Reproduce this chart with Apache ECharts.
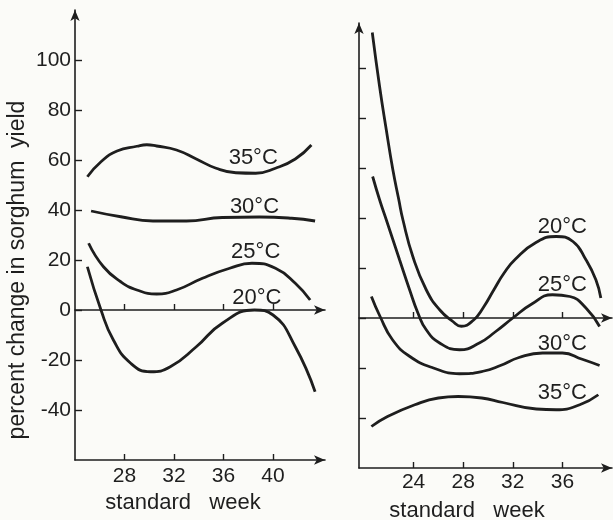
<!DOCTYPE html>
<html>
<head>
<meta charset="utf-8">
<script src="https://cdn.jsdelivr.net/npm/echarts@6/dist/echarts.min.js"></script>
<style>
  html, body { margin: 0; padding: 0; background: #fbfbf8; }
  #main { width: 613px; height: 520px; }
</style>
</head>
<body>
<div id="main"></div>
<script>
// left panel: weeks and percent change
var leftWeeks35 = [25, 26.1, 27.4, 29, 29.8, 30.6, 32.2, 33.8, 35.4, 37, 38.6, 40.2, 41.8, 43.1];
var leftVals35 = [53.3, 59.3, 63.6, 65.5, 66.1, 65.6, 64, 60.4, 56.7, 54.9, 54.7, 56.7, 60.4, 66];
var leftWeeks30 = [25.3, 27.7, 30.3, 33, 35.9, 38.9, 41.5, 43.4];
var leftVals30 = [39.6, 37.3, 35.6, 35.6, 37, 37.2, 36.7, 35.6];
var leftWeeks25 = [25.1, 26.3, 27.7, 29, 30.6, 32.2, 34.3, 36.5, 38.3, 40.2, 41.8, 43];
var leftVals25 = [26.7, 17.3, 11.3, 8, 6.4, 8, 12.7, 16.7, 18.7, 16.7, 10.7, 4];
var leftWeeks20 = [25, 26.1, 27.1, 28.5, 30.1, 31.7, 33.8, 35.9, 38.5, 40, 41.8, 43.4];
var leftVals20 = [17.3, 0, -12, -21.3, -24.7, -22.7, -14.7, -5.3, 0, -2, -14.7, -32.7];

// right panel
var rightWeeks20 = [20.67, 21.26, 21.8, 22.33, 22.81, 23.14, 23.94, 25.02, 26.1, 27.17, 27.85, 28.8, 29.6, 30.5, 31.3, 32.2, 33.9, 35.5, 36.85, 37.9, 38.7, 39.1];
var rightVals20 = [114.2, 92.6, 75.3, 59.3, 47.3, 39.3, 24.6, 11.3, 3.3, -1.4, -3.3, -1, 4, 11.5, 18, 23.5, 30.3, 32.6, 30.6, 23.3, 15.3, 8];
var rightWeeks25 = [20.7, 21.26, 21.8, 22.87, 23.68, 24.35, 25.02, 26.1, 27.7, 29.3, 30.6, 32, 33.5, 35.2, 36.6, 37.9, 39];
var rightVals25 = [56.6, 47.3, 39.3, 23.3, 11.3, 2, -4.7, -10, -12.7, -10, -5.5, 0, 5.5, 9.3, 8.6, 4, -3.4];
var rightWeeks30 = [20.6, 21.3, 22.3, 23.7, 25.6, 27.7, 29.6, 31, 32.5, 34.4, 36, 37.6, 39];
var rightVals30 = [8.6, 0.6, -8.7, -15.4, -20, -22.3, -21.3, -19, -15.8, -14, -14, -16.5, -19];
var rightWeeks35 = [20.6, 21.9, 24.1, 26, 27.6, 29.5, 31.2, 33.9, 35.5, 37.4, 38.9];
var rightVals35 = [-43.4, -39.4, -34.7, -32, -31.4, -32, -33.8, -36.4, -36.7, -34.7, -30.7];

var yTicks = [-40, -20, 0, 20, 40, 60, 80, 100];
var leftWeekTicks = [28, 32, 36, 40];
var rightWeekTicks = [24, 28, 32, 36];
var tempNames = ['35°C', '30°C', '25°C', '20°C'];
// label anchor points [week, value]
var leftLabelAt = [[38.4, 60.8], [38.5, 41.2], [38.6, 23.3], [38.7, 4.7]];
var rightLabelAt = [[36, -29.8], [36, -10.4], [36, 13.3], [36, 36.4]];

var ink = '#1e1e1e';
var font = 'Liberation Sans';

function pairs(w, v) {
    return w.map(function (x, i) { return [x, v[i]]; });
}

function curve(name, w, v, xi, yi, at) {
    return {
        name: name,
        type: 'line',
        xAxisIndex: xi,
        yAxisIndex: yi,
        smooth: 0.5,
        showSymbol: false,
        lineStyle: { color: ink, width: 2.8 },
        data: pairs(w, v),
        markPoint: {
            symbol: 'circle',
            symbolSize: 0,
            silent: true,
            label: {
                show: true,
                position: 'inside',
                formatter: '{b}',
                color: ink,
                fontFamily: font,
                fontSize: 22
            },
            data: [{ name: name, coord: at }]
        }
    };
}

var axisLine = { show: true, symbol: ['none', 'arrow'], symbolSize: [7, 11], lineStyle: { color: ink, width: 1.6 } };

function bottomAxis(g, min, max, ticks, labelDy) {
    return {
        type: 'value', gridIndex: g, min: min, max: max, position: 'bottom',
        axisLine: { show: true, onZero: false, symbol: ['none', 'arrow'], symbolSize: [7, 11], lineStyle: { color: ink, width: 1.6 } },
        axisTick: { show: true, inside: true, length: 6, customValues: ticks, lineStyle: { color: ink, width: 1.4 } },
        axisLabel: { show: true, customValues: ticks, margin: labelDy, color: ink, fontFamily: font, fontSize: 21 },
        splitLine: { show: false }
    };
}

function zeroAxis(g, min, max, ticks) {
    return {
        type: 'value', gridIndex: g, min: min, max: max, position: 'top',
        axisLine: { show: true, onZero: true, symbol: ['none', 'arrow'], symbolSize: [7, 11], lineStyle: { color: ink, width: 1.6 } },
        axisTick: { show: true, inside: false, length: 6, customValues: ticks, lineStyle: { color: ink, width: 1.4 } },
        axisLabel: { show: false },
        splitLine: { show: false }
    };
}

var myChart = echarts.init(document.getElementById('main'), null, { renderer: 'canvas' });

var option = {
    backgroundColor: '#fbfbf8',
    animation: false,
    grid: [
        { left: 75, top: 10, width: 250, height: 450 },
        { left: 359, top: 23, width: 253, height: 445 }
    ],
    xAxis: [
        bottomAxis(0, 24, 44.2, leftWeekTicks, 6),
        zeroAxis(0, 24, 44.2, leftWeekTicks),
        bottomAxis(1, 19.6, 40, rightWeekTicks, 4),
        zeroAxis(1, 19.6, 40, rightWeekTicks)
    ],
    yAxis: [
        {
            type: 'value', gridIndex: 0, min: -60, max: 120,
            axisLine: axisLine,
            axisTick: { show: true, inside: true, length: 7, customValues: yTicks, lineStyle: { color: ink, width: 1.4 } },
            axisLabel: { show: true, customValues: yTicks, margin: 4, color: ink, fontFamily: font, fontSize: 21 },
            splitLine: { show: false }
        },
        {
            type: 'value', gridIndex: 1, min: -60, max: 118,
            axisLine: axisLine,
            axisTick: { show: true, inside: true, length: 7, customValues: yTicks, lineStyle: { color: ink, width: 1.4 } },
            axisLabel: { show: false },
            splitLine: { show: false }
        }
    ],
    graphic: [
        {
            type: 'text', x: 18, y: 270, rotation: Math.PI / 2,
            style: { text: 'percent change in sorghum  yield', fill: ink, font: '23px "Liberation Sans"', align: 'center', verticalAlign: 'middle' }
        },
        {
            type: 'text', x: 183, y: 503,
            style: { text: 'standard   week', fill: ink, font: '22px "Liberation Sans"', align: 'center', verticalAlign: 'middle' }
        },
        {
            type: 'text', x: 467, y: 511,
            style: { text: 'standard   week', fill: ink, font: '22px "Liberation Sans"', align: 'center', verticalAlign: 'middle' }
        }
    ],
    series: [
        curve(tempNames[0], leftWeeks35, leftVals35, 0, 0, leftLabelAt[0]),
        curve(tempNames[1], leftWeeks30, leftVals30, 0, 0, leftLabelAt[1]),
        curve(tempNames[2], leftWeeks25, leftVals25, 0, 0, leftLabelAt[2]),
        curve(tempNames[3], leftWeeks20, leftVals20, 0, 0, leftLabelAt[3]),
        curve(tempNames[0], rightWeeks35, rightVals35, 2, 1, rightLabelAt[0]),
        curve(tempNames[1], rightWeeks30, rightVals30, 2, 1, rightLabelAt[1]),
        curve(tempNames[2], rightWeeks25, rightVals25, 2, 1, rightLabelAt[2]),
        curve(tempNames[3], rightWeeks20, rightVals20, 2, 1, rightLabelAt[3])
    ]
};

if (option && typeof option === 'object') {
    myChart.setOption(option);
}

window.addEventListener('resize', myChart.resize);
</script>
</body>
</html>
